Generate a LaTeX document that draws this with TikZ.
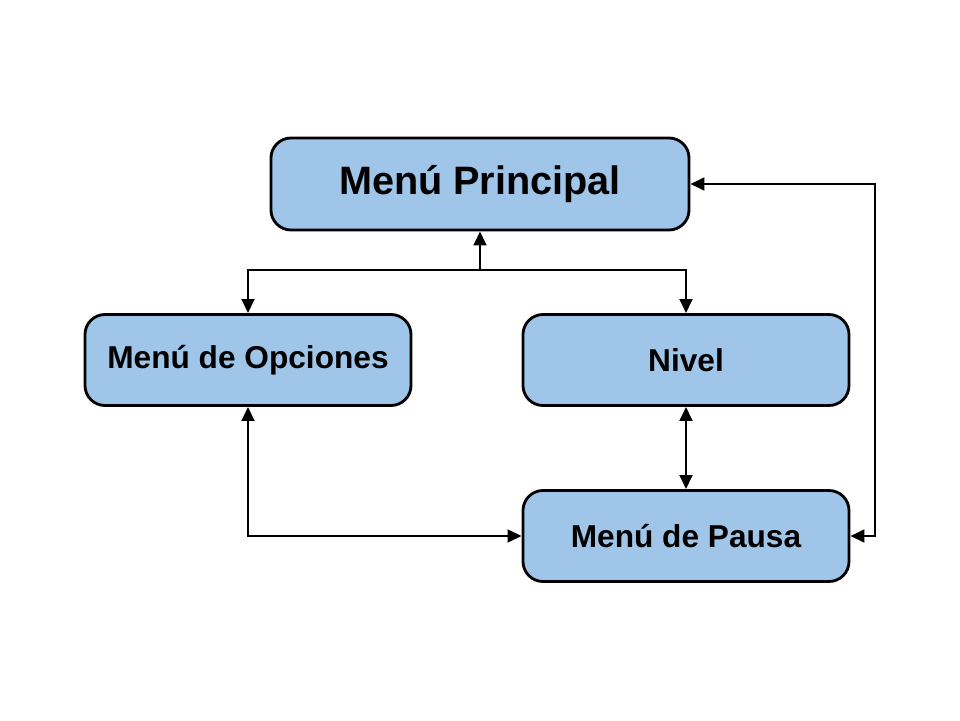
\documentclass[tikz,border=0pt]{standalone}
\usepackage{fontspec}
\setmainfont{Liberation Sans}
\usetikzlibrary{arrows.meta, positioning}
\tikzset{
	menu/.style={rectangle, rounded corners=0.5cm, minimum width=8.15cm, minimum height=2.275cm, text centered, draw=black, line width=2pt, fill=menublue, font=\bfseries\fontsize{22.5}{27}\selectfont},
	arrow/.style={line width=2.1pt, -{Triangle[length=10pt, width=9pt]}},
	twoway/.style={line width=2.1pt, {Triangle[length=10pt, width=9pt]}-{Triangle[length=10pt, width=9pt]}}
}
\definecolor{menublue}{HTML}{9FC5E8}
\begin{document}
\begin{tikzpicture}[node distance=10.95cm]
		\useasboundingbox (0,0) rectangle (24,18);
		
		% Nodes
		\node (P) [menu, minimum width=10.45cm, minimum height=2.3cm, font=\bfseries\fontsize{28.2}{34}\selectfont] at (12,13.4) {Menú Principal};
		\node (O) [menu] at (6.2,9.0) {Menú de Opciones};
		\node (N) [menu, right of=O] {Nivel};
		\node (Pa) [menu, below of=N, node distance=4.4cm] {Menú de Pausa};
		
		% Branch points
		\coordinate (bus) at (12,11.25);
		\coordinate (rbus) at (21.875,13.4);
		
		% Arrows
		\draw [arrow] (bus) -- (P);
		\draw [arrow] (bus) -| (O.north);
		\draw [arrow] (bus) -| (N.north);
		\draw [twoway] (N) -- (Pa);
		\draw [twoway] (O.south) |- (Pa.west);
		\draw [twoway] (P.east) -- (rbus) |- (Pa.east);
		
	\end{tikzpicture}
\end{document}
